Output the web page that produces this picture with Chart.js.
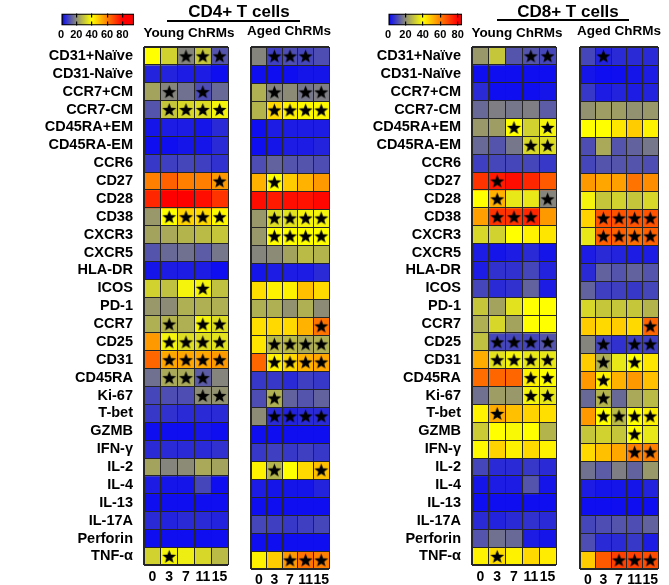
<!DOCTYPE html>
<html><head><meta charset="utf-8">
<script src="https://cdn.jsdelivr.net/npm/chart.js@4.4.1/dist/chart.umd.min.js"></script>
<style>
html,body{margin:0;padding:0;background:#fff;width:669px;height:585px;overflow:hidden;position:relative;font-family:"Liberation Sans",Arial,sans-serif;}
canvas{position:absolute;}
.t{position:absolute;transform:translate(-50%,-50%);white-space:nowrap;font-weight:bold;color:#000;line-height:1;}
.ul{position:absolute;height:2px;background:#000;}
</style></head><body>
<canvas id="cb4"></canvas><canvas id="cb8"></canvas>
<canvas id="h4y"></canvas><canvas id="h4a"></canvas><canvas id="h8y"></canvas><canvas id="h8a"></canvas>
<div class="t" style="left:239px;top:11px;font-size:17px">CD4+ T cells</div>
<div class="ul" style="left:167px;top:20px;width:133px"></div>
<div class="t" style="left:189px;top:33px;font-size:13.5px">Young ChRMs</div>
<div class="t" style="left:289px;top:31px;font-size:13.5px">Aged ChRMs</div>
<div class="t" style="left:568px;top:11px;font-size:17px">CD8+ T cells</div>
<div class="ul" style="left:497px;top:19px;width:132px"></div>
<div class="t" style="left:517px;top:33px;font-size:13.5px">Young ChRMs</div>
<div class="t" style="left:619px;top:31px;font-size:13.5px">Aged ChRMs</div>
<script>
const markers = ['CD31+Naïve','CD31-Naïve','CCR7+CM','CCR7-CM','CD45RA+EM','CD45RA-EM','CCR6','CD27','CD28','CD38','CXCR3','CXCR5','HLA-DR','ICOS','PD-1','CCR7','CD25','CD31','CD45RA','Ki-67','T-bet','GZMB','IFN-γ','IL-2','IL-4','IL-13','IL-17A','Perforin','TNF-α'];
const timepoints = ['0','3','7','11','15'];
const colorbarTicks = [0,20,40,60,80];

const cd4Young = [[40,32,19,30,12],[5,5,4,4,2],[24,19,16,11,15],[12,30,33,34,38],[3,4,4,3,6],[2,2,3,3,6],[8,9,10,9,7],[60,65,60,60,56],[74,80,80,78,72],[22,40,47,46,41],[24,25,27,28,30],[12,15,16,13,17],[3,4,4,4,2],[32,29,38,38,29],[22,20,26,26,26],[26,27,26,38,34],[56,38,34,34,35],[64,54,54,54,56],[16,25,25,13,19],[10,11,11,20,21],[8,7,6,6,6],[2,2,2,3,2],[6,6,6,6,7],[24,19,20,25,24],[4,3,3,10,2],[2,2,2,2,2],[6,5,6,6,5],[2,2,2,2,2],[32,38,37,33,28]];
const cd4Aged = [[19,9,11,10,11],[2,2,2,3,3],[26,19,20,17,18],[27,46,42,41,41],[2,4,4,4,4],[2,3,4,4,5],[11,14,12,12,11],[52,40,48,52,56],[78,76,78,77,79],[22,34,35,38,38],[22,40,40,40,40],[19,20,24,28,27],[3,4,4,4,6],[45,42,42,50,46],[26,26,21,26,20],[45,46,46,52,62],[44,28,28,25,26],[64,42,46,52,54],[8,8,6,9,8],[11,26,14,12,14],[20,6,5,6,6],[2,2,2,2,2],[8,9,8,9,8],[42,27,40,46,50],[4,3,3,3,5],[2,2,2,2,2],[10,9,8,9,10],[2,2,2,2,2],[42,48,56,62,60]];
const cd8Young = [[22,30,12,12,10],[2,2,2,2,2],[6,2,2,2,3],[15,18,17,18,13],[22,23,40,32,38],[15,12,17,33,34],[9,10,10,10,8],[72,76,78,74,66],[40,52,36,36,19],[55,72,72,74,56],[33,32,40,42,44],[4,3,4,6,3],[4,7,7,10,5],[10,6,7,14,4],[30,24,35,40,40],[26,33,24,40,40],[29,10,10,10,12],[53,35,38,36,36],[63,64,64,42,40],[16,23,22,38,36],[42,53,50,47,45],[31,40,39,40,27],[41,47,42,46,42],[10,6,6,8,6],[3,4,4,12,3],[2,2,2,2,2],[6,5,6,7,6],[12,16,15,4,3],[42,45,42,46,43]];
const cd8Aged = [[10,5,6,6,6],[3,2,2,3,4],[8,4,5,4,5],[21,23,23,21,22],[40,40,44,48,42],[11,25,12,14,17],[10,12,12,12,11],[56,54,55,62,58],[38,30,32,30,33],[47,67,67,67,67],[36,65,65,63,65],[4,6,5,4,4],[6,14,12,14,12],[14,9,9,8,10],[33,30,30,30,27],[48,46,48,46,64],[19,10,7,9,9],[48,26,36,40,44],[56,42,52,56,50],[15,27,15,25,28],[56,40,28,40,42],[30,32,30,40,36],[46,50,54,60,60],[16,13,18,14,22],[4,3,3,3,5],[2,2,2,2,2],[10,11,12,11,14],[11,6,6,8,4],[48,66,70,70,68]];

// significance stars: column indices per marker row
const cd4YoungSig = [[2,3,4],[],[1,3],[1,2,3,4],[],[],[],[4],[],[1,2,3,4],[],[],[],[3],[],[1,3,4],[1,2,3,4],[1,2,3,4],[1,2,3],[3,4],[],[],[],[],[],[],[],[],[1]];
const cd4AgedSig = [[1,2,3],[],[1,3,4],[1,2,3,4],[],[],[],[1],[],[1,2,3,4],[1,2,3,4],[],[],[],[],[4],[1,2,3,4],[1,2,3,4],[],[1],[1,2,3,4],[],[],[1,4],[],[],[],[],[2,3,4]];
const cd8YoungSig = [[3,4],[],[],[],[2,4],[3,4],[],[1],[1,4],[1,2,3],[],[],[],[],[],[],[1,2,3,4],[1,2,3,4],[3,4],[3,4],[1],[],[],[],[],[],[],[],[1]];
const cd8AgedSig = [[1],[],[],[],[],[],[],[],[],[1,2,3,4],[1,2,3,4],[],[],[],[],[4],[1,3,4],[1,3],[1],[1],[1,2,3,4],[3],[3,4],[],[],[],[],[],[2,3,4]];

const FONT = "'Liberation Sans', Arial, sans-serif";
Chart.defaults.font.family = FONT;
Chart.defaults.color = '#000';

const cmapStops = [[0,[0,0,255]],[20,[140,140,118]],[40,[255,255,0]],[60,[255,128,0]],[80,[255,0,0]]];
function colorFor(v){
  if (v <= cmapStops[0][0]) return 'rgb(' + cmapStops[0][1].join(',') + ')';
  for (let k = 1; k < cmapStops.length; k++){
    const [v1,c1] = cmapStops[k], [v0,c0] = cmapStops[k-1];
    if (v <= v1){
      const t = (v - v0) / (v1 - v0);
      return 'rgb(' + c0.map((a,j)=>Math.round(a + (c1[j]-a)*t)).join(',') + ')';
    }
  }
  return 'rgb(' + cmapStops[cmapStops.length-1][1].join(',') + ')';
}

function makeStar(size){
  const c = document.createElement('canvas');
  c.width = c.height = size;
  const g = c.getContext('2d');
  const cx = size/2, cy = size/2 + 0.7, R = size/2 - 0.2, r = R*0.42;
  g.beginPath();
  for (let k = 0; k < 10; k++){
    const a = -Math.PI/2 + k*Math.PI/5;
    const rr = k % 2 ? r : R;
    g.lineTo(cx + rr*Math.cos(a), cy + rr*Math.sin(a));
  }
  g.closePath();
  g.fillStyle = '#000';
  g.fill();
  return c;
}
const starImg = makeStar(15);

function place(id, left, top, w, h){
  const cv = document.getElementById(id);
  cv.width = w; cv.height = h;
  cv.style.left = left + 'px'; cv.style.top = top + 'px';
  cv.style.width = w + 'px'; cv.style.height = h + 'px';
  return cv;
}

function heatmap(id, left, width, yW, padL, padR, values, sig, showLabels){
  const cv = place(id, left, 0, width, 585);
  const nRows = markers.length;
  const datasets = values.map((row, i) => ({
    type: 'bar',
    data: timepoints.map(() => [i, i + 1]),
    backgroundColor: row.map(colorFor),
    borderWidth: 0,
    grouped: false,
    barPercentage: 1,
    categoryPercentage: 1,
    order: 2
  }));
  const stars = [];
  sig.forEach((cols, i) => cols.forEach(c => stars.push({x: timepoints[c], y: i + 0.5})));
  datasets.push({
    type: 'line', data: stars, showLine: false,
    pointStyle: starImg, pointRadius: 7, pointHoverRadius: 7, order: 0
  });
  const gridColor = '#262626';
  new Chart(cv, {
    type: 'bar',
    data: { labels: timepoints, datasets },
    options: {
      responsive: false, animation: false, devicePixelRatio: 1,
      layout: { padding: { top: 47, left: padL, right: padR, bottom: 0 } },
      plugins: { legend: { display: false }, tooltip: { enabled: false } },
      scales: {
        x: {
          type: 'category', offset: true,
          grid: { z: 1, offset: true, drawTicks: false, color: gridColor,
                  lineWidth: c => (c.index === 0 || c.index === timepoints.length) ? 2 : 1 },
          border: { display: false },
          ticks: { color: '#000', font: { weight: 'bold', size: 14 }, padding: 3, maxRotation: 0, autoSkip: false },
          afterFit: s => { s.height = 16; }
        },
        y: {
          type: 'linear', min: 0, max: nRows, reverse: true,
          grid: { z: 1, drawTicks: false, color: gridColor,
                  lineWidth: c => (c.index === 0 || c.index === nRows) ? 2 : 1 },
          border: { display: false },
          ticks: { display: showLabels, stepSize: 1, maxTicksLimit: 100, autoSkip: false,
                   callback: v => markers[v] !== undefined ? markers[v] : '',
                   labelOffset: 9, padding: 11, color: '#000',
                   font: { weight: 'bold', size: 14.5 } },
          afterFit: s => { s.width = yW; }
        }
      }
    }
  });
}

heatmap('h4y', 0, 236, 144, 0, 2, cd4Young, cd4YoungSig, true);
heatmap('h4a', 243, 94, 0, 2, 2, cd4Aged, cd4AgedSig, false);
heatmap('h8y', 336, 228, 136, 0, 2, cd8Young, cd8YoungSig, true);
heatmap('h8a', 572, 94, 0, 2, 2, cd8Aged, cd8AgedSig, false);

function colorbar(id, left, padL, padR, cbMax){
  const cv = place(id, left, 0, 100, 45);
  new Chart(cv, {
    type: 'bar',
    data: { labels: [''], datasets: [{
      data: [[0, cbMax]],
      backgroundColor: ctx => {
        const ca = ctx.chart.chartArea;
        if (!ca) return '#888';
        const g = ctx.chart.ctx.createLinearGradient(ca.left, 0, ca.right, 0);
        cmapStops.forEach(([v, c]) => g.addColorStop(Math.min(v / cbMax, 1), 'rgb(' + c.join(',') + ')'));
        return g;
      },
      borderColor: '#000', borderWidth: 1.5, borderSkipped: false,
      barPercentage: 1, categoryPercentage: 1
    }]},
    options: {
      indexAxis: 'y', responsive: false, animation: false, devicePixelRatio: 1,
      layout: { padding: { top: 13.5, left: padL, right: padR, bottom: 0 } },
      plugins: { legend: { display: false }, tooltip: { enabled: false } },
      scales: {
        x: {
          type: 'linear', min: 0, max: cbMax,
          afterBuildTicks: s => { s.ticks = colorbarTicks.map(v => ({ value: v })); },
          grid: { z: 1, drawTicks: false, color: c => c.index === 0 ? 'rgba(0,0,0,0)' : '#000', lineWidth: 1.2 },
          border: { display: false, dash: [4, 4] },
          ticks: { color: '#000', font: { weight: 'bold', size: 11 }, padding: 3, maxRotation: 0, autoSkip: false },
          afterFit: s => { s.height = 19.5; }
        },
        y: { display: false }
      }
    }
  });
}
colorbar('cb4', 50, 11, 16, 95);
colorbar('cb8', 378, 10, 16, 85);
</script>
</body></html>
